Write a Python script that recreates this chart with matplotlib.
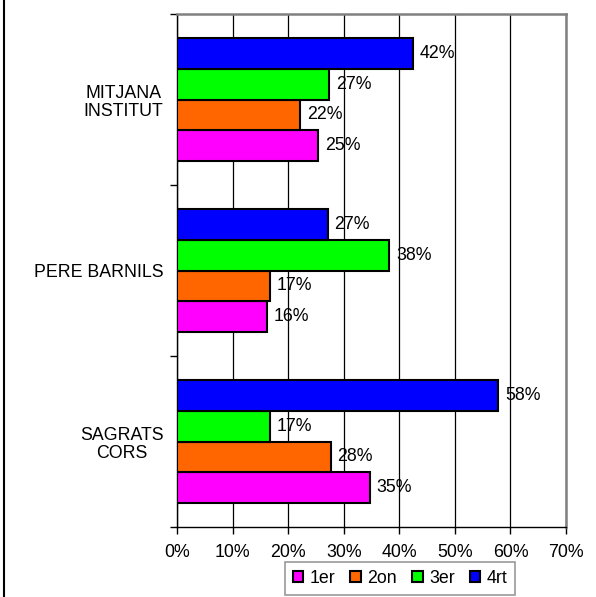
import matplotlib
matplotlib.use("Agg")
import matplotlib.pyplot as plt
import numpy as np
from matplotlib.lines import Line2D

plt.rcParams['font.family'] = ['Liberation Sans', 'DejaVu Sans']

categories = ["SAGRATS\nCORS", "PERE BARNILS", "MITJANA\nINSTITUT"]
series = ["1er", "2on", "3er", "4rt"]
values = {
    "1er": [34.7, 16.2, 25.4],
    "2on": [27.6, 16.7, 22.1],
    "3er": [16.7, 38.2, 27.4],
    "4rt": [57.8, 27.1, 42.4],
}
labels = {
    "1er": ["35%", "16%", "25%"],
    "2on": ["28%", "17%", "22%"],
    "3er": ["17%", "38%", "27%"],
    "4rt": ["58%", "27%", "42%"],
}
colors = {"1er": "#FF00FF", "2on": "#FF6600", "3er": "#00FF00", "4rt": "#0000FF"}
xticks = [0, 10, 20, 30, 40, 50, 60, 70]

FS = 12.8

fig = plt.figure(figsize=(5.96, 5.97), dpi=100)
ax = fig.add_axes([177.3/596, 1-527/597, (566-177.3)/596, (527-14)/597])

bh = 0.181
y = np.arange(len(categories))
for i, s in enumerate(series):
    off = (i - 1.5) * bh
    ax.barh(y + off, values[s], height=bh, color=colors[s],
            edgecolor='black', linewidth=1.5, label=s, zorder=3)
    for yy, v, lab in zip(y + off, values[s], labels[s]):
        ax.text(v + 1.2, yy, lab, va='center', ha='left', fontsize=FS, zorder=4)

ax.set_xlim(0, 70)
ax.set_ylim(-0.5, 2.5)
ax.set_xticks(xticks)
ax.set_xticklabels([f"{t}%" for t in xticks], fontsize=FS)
ax.set_yticks([-0.5, 0.5, 1.5, 2.5])
ax.set_yticklabels([])
ax.set_yticks(y, minor=True)
ax.set_yticklabels(categories, minor=True, fontsize=FS, multialignment='center',
                   linespacing=1.1)
ax.tick_params(axis='y', which='minor', length=0, pad=10)
ax.tick_params(axis='y', which='major', length=5, width=1, direction='out')
ax.tick_params(axis='x', length=5, width=1, direction='out', pad=7)
ax.grid(axis='x', color='black', linewidth=0.9, zorder=1)
ax.set_axisbelow(True)
for sp in ['left', 'bottom']:
    ax.spines[sp].set_color('black')
    ax.spines[sp].set_linewidth(1.0)
for sp in ['top', 'right']:
    ax.spines[sp].set_color('#808080')
    ax.spines[sp].set_linewidth(1.8)

handles, labs = ax.get_legend_handles_labels()
leg = fig.legend(handles, labs, loc='upper center', bbox_to_anchor=(400/596, 1-561.7/597),
                 ncol=4, fontsize=FS, frameon=True, fancybox=False,
                 handlelength=0.6, handleheight=0.6, handletextpad=0.35,
                 columnspacing=0.85, borderpad=0.45, borderaxespad=0)
leg.get_frame().set_edgecolor('#808080')
leg.get_frame().set_linewidth(1.2)

fig.add_artist(Line2D([3.5/596, 3.5/596], [0, 1], color='black', linewidth=1.5,
                      transform=fig.transFigure))

fig.savefig("out.png", dpi=100)
